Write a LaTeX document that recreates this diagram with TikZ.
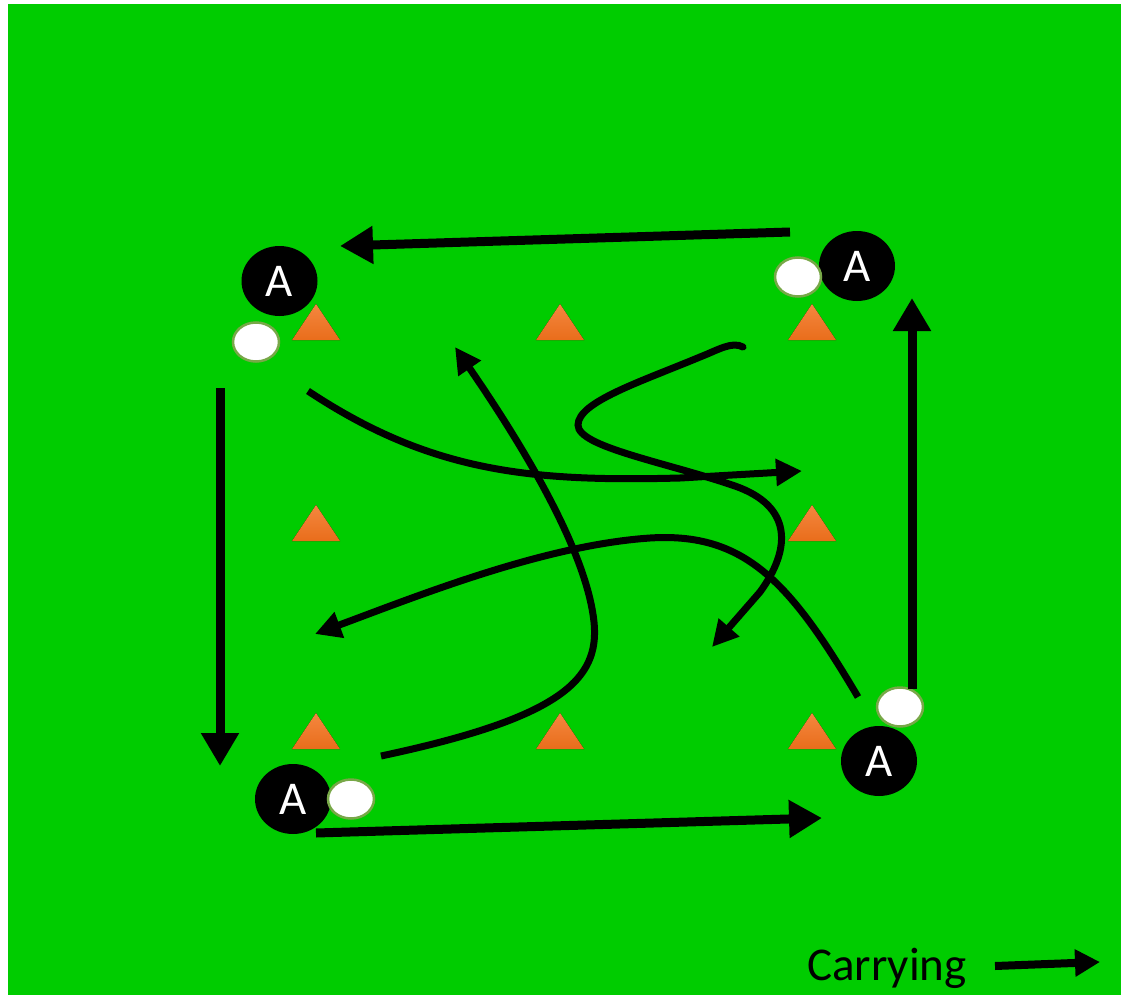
\documentclass[tikz,border=0pt]{standalone}
\usepackage{fontspec}
\newfontfamily\carlito{Carlito}
\usetikzlibrary{shapes.geometric,arrows.meta}
\definecolor{pitch}{HTML}{00CC00}
\definecolor{ballrim}{HTML}{78A848}
\definecolor{conetop}{HTML}{F4873F}
\definecolor{conebot}{HTML}{E96D1B}
\tikzset{
  player/.style={ellipse, fill=black, minimum width=76, minimum height=70, inner sep=0,
    text=white, font=\carlito\fontsize{47}{47}\selectfont},
  ball/.style={ellipse, fill=white, draw=ballrim, line width=2.5, minimum width=46, minimum height=39, inner sep=0},
  run/.style={line width=9, -{Triangle[length=33,width=36]}},
  dribble/.style={line width=7, line cap=round, -{Triangle[length=26,width=26]}},
  cone/.style={top color=conetop, bottom color=conebot}
}
\begin{document}
\begin{tikzpicture}[x=1pt,y=-1pt]
\useasboundingbox (0,0) rectangle (1121,995);
\fill[white] (0,0) rectangle (1121,995);
\fill[pitch] (8,4) rectangle (1121,995);

% cones
\foreach \cx/\cy in {316/304,560/304,812/304,316/505,812/505,316/713,560/713,812/713}{
  \fill[cone] (\cx,\cy) -- (\cx+24,\cy+36) -- (\cx-24,\cy+36) -- cycle;
}

% players and balls
\node[player] (pTL) at (279.5,281) {A};
\node[player] (pTR) at (857,266) {A};
\node[player] (pBL) at (293,799) {A};
\node[player] (pBR) at (879,761) {A};
\node[ball] (bTL) at (256,342) {};
\node[ball] (bTR) at (798,277) {};
\node[ball] (bBL) at (351,799) {};
\node[ball] (bBR) at (900,707) {};

% straight runs
\coordinate (tS) at (790,232); \coordinate (tE) at (340,246);
\coordinate (rS) at (912,689); \coordinate (rE) at (912,298);
\coordinate (lS) at (220,388); \coordinate (lE) at (220,766);
\coordinate (bS) at (316,833); \coordinate (bE) at (822,818);
\draw[run] (tS) -- (tE);
\draw[run] (rS) -- (rE);
\draw[run] (lS) -- (lE);
\draw[run] (bS) -- (bE);

% dribbling curves
\coordinate (c1S) at (308,391); \coordinate (c1E) at (802,471);
\draw[dribble, line cap=butt] (c1S) .. controls (430,472) and (530,482) .. (680,478) -- (c1E);

\coordinate (c2S) at (381,756); \coordinate (c2E) at (455,347);
\draw[dribble, line cap=butt] (c2S) .. controls (560,718) and (600,680) .. (594,622) .. controls (588,565) and (545,478) .. (c2E);

\coordinate (c3S) at (858,697); \coordinate (c3E) at (315,634);
\draw[dribble, line cap=butt] (c3S) .. controls (790,582) and (745,532) .. (650,538) .. controls (545,545) and (420,595) .. (c3E);

\coordinate (c4S) at (743,347); \coordinate (c4E) at (712,647);
\draw[dribble] (c4S) .. controls (732,341) and (718,350) .. (700,357) .. controls (640,382) and (578,402) .. (578,425) .. controls (578,447) and (665,462) .. (735,486) .. controls (792,506) and (792,548) .. (760,592) -- (c4E);

% legend
\node[anchor=base west, inner sep=0, font=\carlito\fontsize{47}{47}\selectfont] (leg) at (807,980) {Carrying};
\coordinate (legS) at (995,966); \coordinate (legE) at (1100,962);
\draw[line width=8, -{Triangle[length=25,width=26]}] (legS) -- (legE);
\end{tikzpicture}
\end{document}
